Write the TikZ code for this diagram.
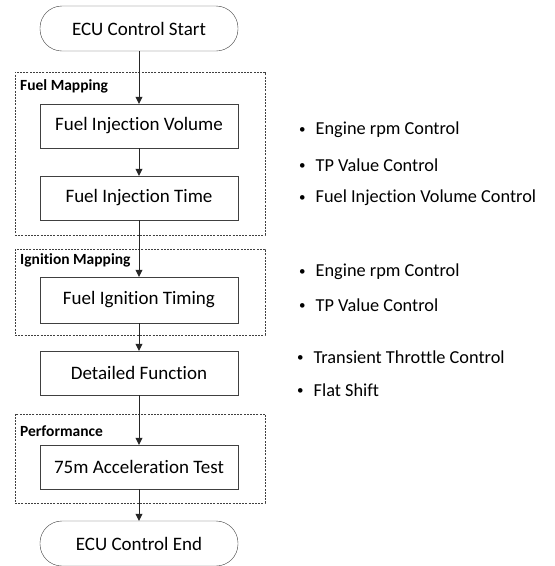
\documentclass[tikz,border=0pt]{standalone}
\usepackage{fontspec}
\setmainfont{Carlito}[Ligatures=NoCommon]
\usepackage{tikz}
\usetikzlibrary{arrows.meta, positioning}

\newcommand{\itembullet}{{\fontsize{13}{13}\selectfont\raisebox{1.5pt}{\textbullet}}\hspace{10pt}}

\begin{document}
\begin{tikzpicture}[
    x=1pt, y=-1pt,
    term/.style={rectangle, draw=black!75, rounded corners=22pt, minimum width=198pt, minimum height=45pt, font=\fontsize{19}{22}\selectfont},
    box/.style={rectangle, draw=black!75, minimum width=198pt, minimum height=44pt, font=\fontsize{19}{22}\selectfont},
    group/.style={rectangle, draw=black!75, dash pattern=on 2pt off 1.2pt, minimum width=250pt},
    grplabel/.style={anchor=west, inner sep=0pt, font=\fontsize{15.5}{18}\selectfont\bfseries},
    item/.style={anchor=west, inner sep=0pt, font=\fontsize{18.3}{21}\selectfont},
    arr/.style={-{Triangle[length=7pt, width=7pt]}, draw=black!85},
]
\useasboundingbox (0,0) rectangle (555,566);

% mapping groups
\node[group, minimum height=163pt] (fuelgrp) at (140,153.5) {};
\node[group, minimum height=86pt] (igngrp) at (140,292) {};
\node[group, minimum height=89pt] (perfgrp) at (140,458.5) {};
\node[grplabel] (fuellbl) at (20,86) {Fuel Mapping};
\node[grplabel] (ignlbl) at (20,260) {Ignition Mapping};
\node[grplabel] (perflbl) at (20,431) {Performance};

% flow
\node[term] (start) at (139,28.5) {ECU Control Start};
\node[box] (volume) at (139,126) {Fuel Injection Volume};
\node[box] (time) at (139,198) {Fuel Injection Time};
\node[box, minimum height=46pt] (timing) at (139,300) {Fuel Ignition Timing};
\node[box] (detail) at (139,373) {Detailed Function};
\node[box] (accel) at (139,467) {75m Acceleration Test};
\node[term] (end) at (139,543.5) {ECU Control End};

\draw[arr] (start) -- (volume);
\draw[arr] (volume) -- (time);
\draw[arr] (time) -- (timing);
\draw[arr] (timing) -- (detail);
\draw[arr] (detail) -- (accel);
\draw[arr] (accel) -- (end);

% control items
\node[item] (fuel1) at (299,130) {\itembullet Engine rpm Control};
\node[item] (fuel2) at (299,165) {\itembullet TP Value Control};
\node[item] (fuel3) at (299,198) {\itembullet Fuel Injection Volume Control};
\node[item] (ign1) at (299,272) {\itembullet Engine rpm Control};
\node[item] (ign2) at (299,305) {\itembullet TP Value Control};
\node[item] (det1) at (297,357) {\itembullet Transient Throttle Control};
\node[item] (det2) at (297,390) {\itembullet Flat Shift};
\end{tikzpicture}
\end{document}
